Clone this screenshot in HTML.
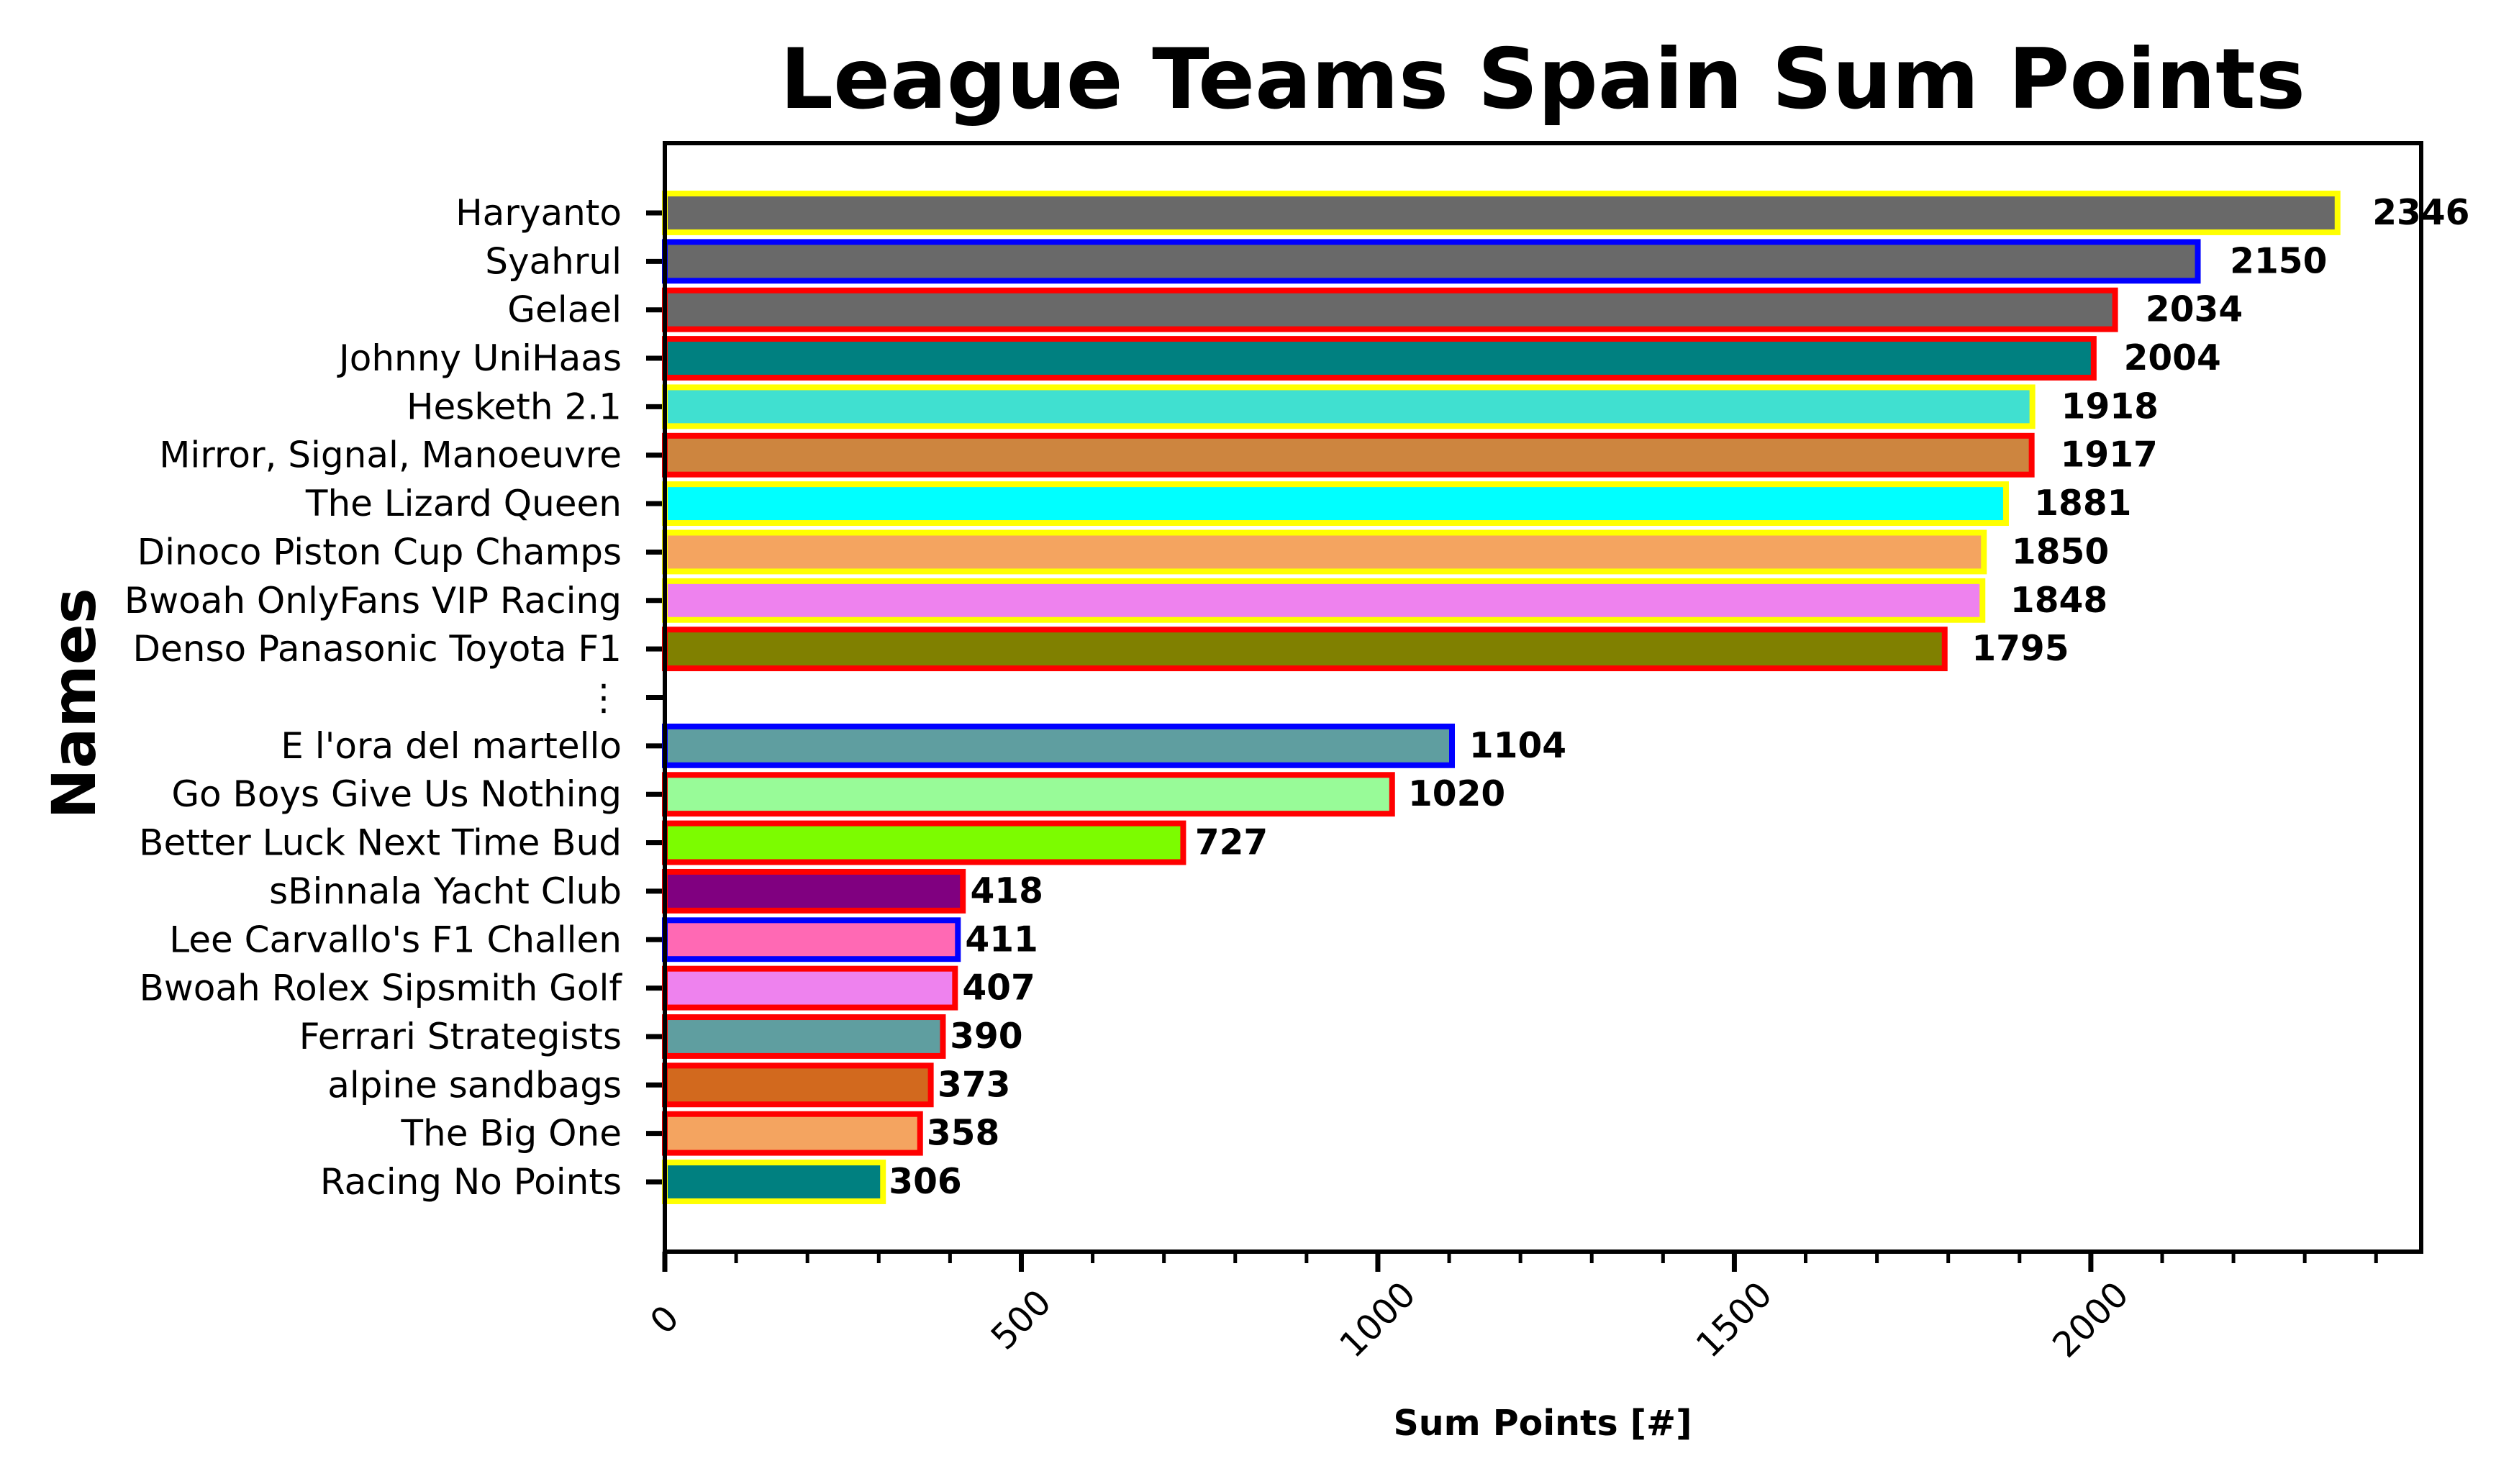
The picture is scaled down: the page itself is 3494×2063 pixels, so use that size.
<!DOCTYPE html>
<html><head><meta charset="utf-8"><style>
html,body{margin:0;padding:0;background:#fff;}
svg{display:block;font-family:"DejaVu Sans","Liberation Sans",sans-serif;}
</style></head><body>
<svg id="chart" width="3494" height="2063" viewBox="0 0 3494 2063" xmlns="http://www.w3.org/2000/svg">
<rect x="0" y="0" width="3494" height="2063" fill="#fff"/>
<text x="2144" y="150" text-anchor="middle" font-weight="bold" font-size="116" textLength="2120" lengthAdjust="spacingAndGlyphs">League Teams Spain Sum Points</text>
<text transform="translate(132,978) rotate(-90)" text-anchor="middle" font-weight="bold" font-size="84">Names</text>
<text x="2144" y="1995" text-anchor="middle" font-weight="bold" font-size="49">Sum Points [#]</text>
<g id="plot"></g>
</svg>
<script>
const categories = ["Haryanto","Syahrul","Gelael","Johnny UniHaas","Hesketh 2.1","Mirror, Signal, Manoeuvre","The Lizard Queen","Dinoco Piston Cup Champs","Bwoah OnlyFans VIP Racing","Denso Panasonic Toyota F1","⋮","E l'ora del martello","Go Boys Give Us Nothing","Better Luck Next Time Bud","sBinnala Yacht Club","Lee Carvallo's F1 Challen","Bwoah Rolex Sipsmith Golf","Ferrari Strategists","alpine sandbags","The Big One","Racing No Points"];
const values = [2346,2150,2034,2004,1918,1917,1881,1850,1848,1795,null,1104,1020,727,418,411,407,390,373,358,306];
const fillColors = ["#696969","#696969","#696969","#008080","#40e0d0","#cd853f","#00ffff","#f4a460","#ee82ee","#808000",null,"#5f9ea0","#98fb98","#7cfc00","#800080","#ff69b4","#ee82ee","#5f9ea0","#d2691e","#f4a460","#008080"];
const edgeColors = ["#ffff00","#0000ff","#ff0000","#ff0000","#ffff00","#ff0000","#ffff00","#ffff00","#ffff00","#ff0000",null,"#0000ff","#ff0000","#ff0000","#ff0000","#0000ff","#ff0000","#ff0000","#ff0000","#ff0000","#ffff00"];
const xTicks = [0,500,1000,1500,2000];
const xMinorStep = 100;

const NS="http://www.w3.org/2000/svg";
const L=924,R=3365,T=199,B=1740;
const xMax = Math.max(...values.filter(v=>v!==null))*1.05;
const x = v => L + v/xMax*(R-L);
const n = categories.length, pad = 1.44;
const step = (B-T)/(n-1+2*pad);
const y = i => T + (pad+i)*step;
const g = document.getElementById('plot');
function mk(tag, attrs){const e=document.createElementNS(NS,tag);for(const k in attrs)e.setAttribute(k,attrs[k]);g.appendChild(e);return e;}
const bh = 0.8*step;
categories.forEach((c,i)=>{
  const cy=y(i);
  const tk=mk('line',{x1:L-26,x2:L,y1:cy,y2:cy,stroke:'#000','stroke-width':7});
  
  
  const t=mk('text',{x:864,y:cy,'text-anchor':'end','dominant-baseline':'central','font-size':50});
  t.textContent=c;
  
  
  const v=values[i];
  if(v===null) return;
  const r=mk('rect',{x:L,y:cy-bh/2,width:x(v)-L,height:bh,fill:fillColors[i],stroke:edgeColors[i],'stroke-width':8});
  
  
  const lb=mk('text',{x:x(v*1.02)+2,y:cy,'dominant-baseline':'central','font-size':48.6,'font-weight':'bold'});
  lb.textContent=v;
  
  
});
for(let v=0; v<=xMax; v+=xMinorStep){
  if(v%500===0) continue;
  const m=mk('line',{x1:x(v),x2:x(v),y1:B,y2:B+16,stroke:'#000','stroke-width':5});
  
  
}
xTicks.forEach(v=>{
  const m=mk('line',{x1:x(v),x2:x(v),y1:B,y2:B+28,stroke:'#000','stroke-width':7});
  
  
  const t=mk('text',{x:0,y:0,'text-anchor':'middle','dominant-baseline':'central','font-size':48.6,transform:`translate(${x(v)},${1835}) rotate(-45)`});
  t.textContent=v;
  
  
});
const fr=mk('rect',{x:L,y:T,width:R-L,height:B-T,fill:'none',stroke:'#000','stroke-width':6});


</script>
</body></html>
